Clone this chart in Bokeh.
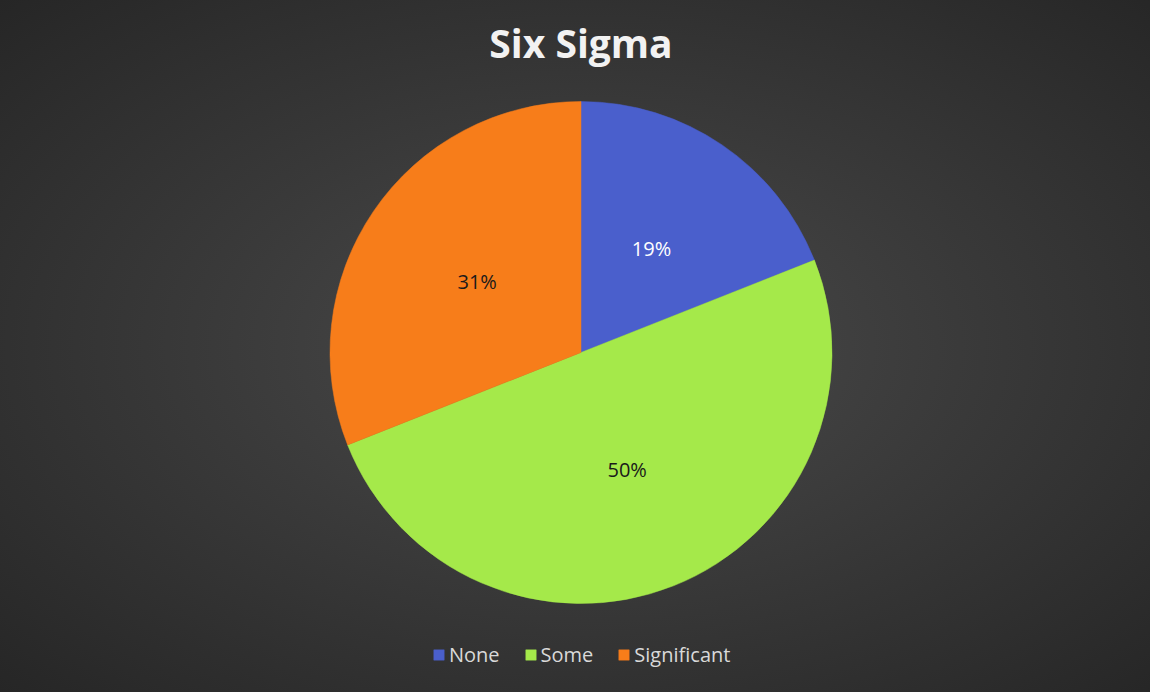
import math
from bokeh.plotting import figure
from bokeh.models import Range1d, ColumnDataSource, Legend, LegendItem, Label
from bokeh.embed import file_html
from bokeh.resources import INLINE
from bokeh.core.properties import value

# ---- data ----
title_text = "Six Sigma"
categories = ["None", "Some", "Significant"]
percents = [19, 50, 31]
colors = ["#4a5fcc", "#a5e94a", "#f77d1a"]
label_colors = ["#ffffff", "#1a1a1a", "#1a1a1a"]

W, H = 1150, 692
p = figure(width=W, height=H, output_backend="svg", toolbar_location=None,
           x_range=Range1d(0, W), y_range=Range1d(0, H), min_border=0,
           match_aspect=False)
p.axis.visible = False
p.grid.visible = False
p.outline_line_color = None
p.background_fill_alpha = 0
p.border_fill_alpha = 0
p.styles = {"background": "radial-gradient(ellipse at 51% 50%, #4b4b4b 0%, #3a3a3a 45%, #262626 100%)"}

cx, cy, R = 580.5, 340, 251
total = sum(percents)
starts, ends, lx, ly, texts = [], [], [], [], []
a = math.pi / 2
for v in percents:
    span = 2 * math.pi * v / total
    starts.append(a - span)
    ends.append(a)
    mid = a - span / 2
    lx.append(cx + 0.5 * R * math.cos(mid))
    ly.append(cy + 0.5 * R * math.sin(mid))
    texts.append(f"{round(100 * v / total)}%")
    a -= span

src = ColumnDataSource(dict(cat=categories, start=starts, end=ends, color=colors,
                            lx=lx, ly=ly, txt=texts, tc=label_colors))
r = p.wedge(x=cx, y=cy, radius=R, start_angle="start", end_angle="end",
            fill_color="color", line_color="color", line_width=0.5, source=src)
p.text(x="lx", y="ly", text="txt", text_color="tc", source=src,
       text_align="center", text_baseline="middle",
       text_font=value("Open Sans"), text_font_size="20px")

p.add_layout(Label(x=cx, y=H - 42, x_units="screen", y_units="screen",
                   text=title_text, text_align="center", text_baseline="middle",
                   text_font="Open Sans", text_font_style="bold",
                   text_font_size="39px", text_color="#f2f2f2"))

legend = Legend(items=[LegendItem(label=c, renderers=[r], index=i) for i, c in enumerate(categories)],
                orientation="horizontal", location=(432, 24),
                glyph_width=13, glyph_height=13, label_standoff=4, spacing=24,
                label_text_font="Open Sans", label_text_font_size="20px",
                label_text_color="#d9d9d9", background_fill_alpha=0,
                border_line_color=None, padding=0, margin=0)
p.add_layout(legend, "center")

open("out.html", "w").write(file_html(p, INLINE))
